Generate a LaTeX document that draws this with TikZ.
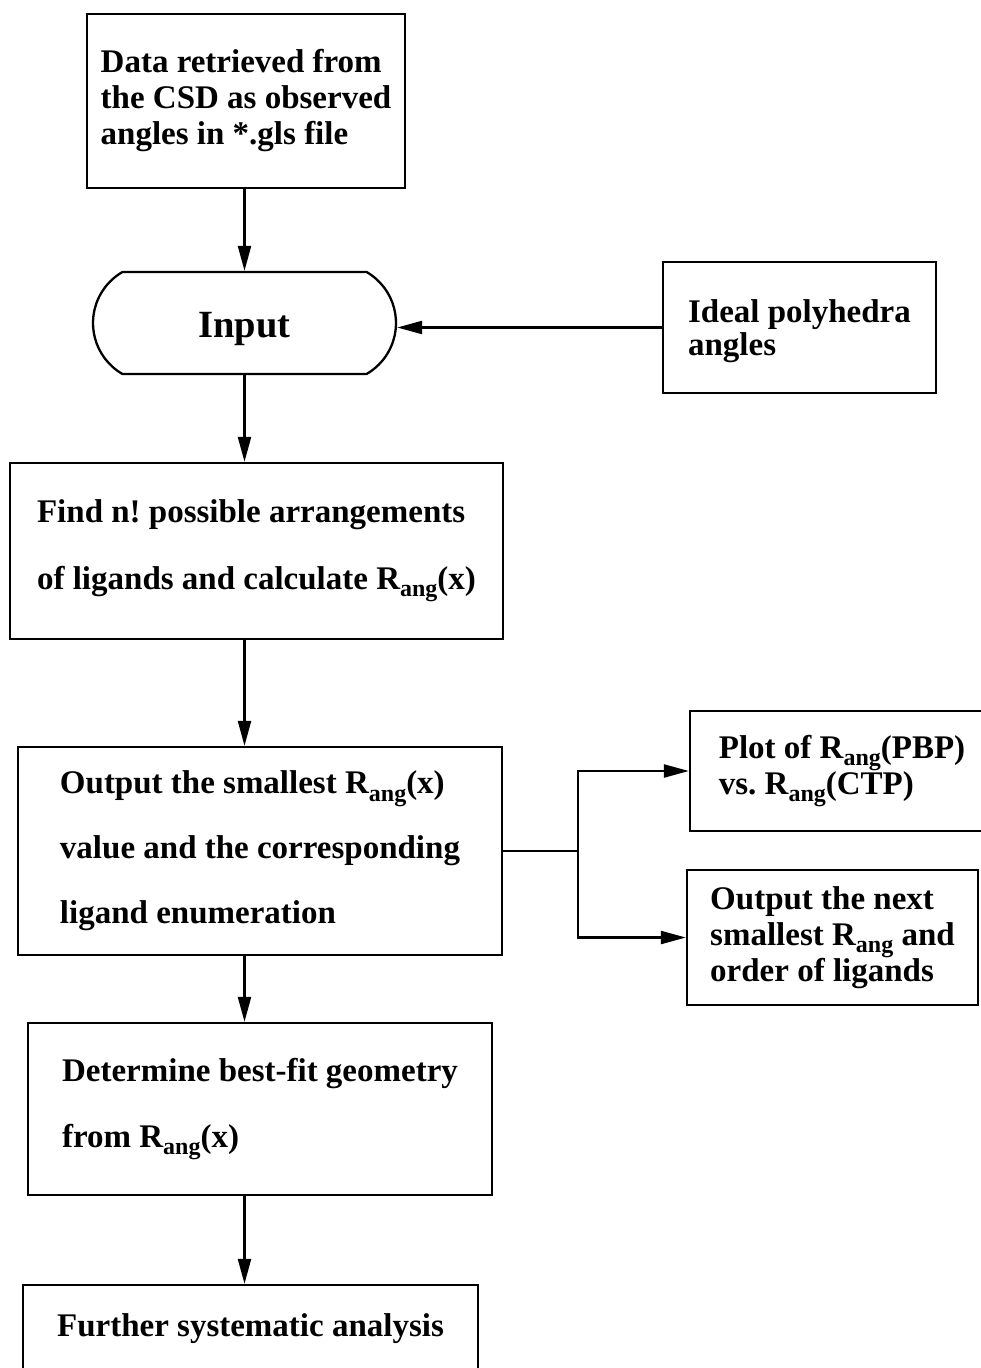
\documentclass[tikz,border=0pt]{standalone}
\usepackage{fontspec}
\setmainfont{Liberation Serif}
\usetikzlibrary{arrows.meta,positioning,shapes.misc}
\newcommand{\Rang}{R\raisebox{-0.22em}{\fontsize{24}{24}\selectfont ang}}
\frenchspacing

\begin{document}
\begin{tikzpicture}[x=1pt,y=-1pt,
    box/.style={draw,line width=2.3pt,align=left,inner sep=0pt,
      font=\bfseries\fontsize{33}{36}\selectfont},
    flow/.style={line width=2.3pt,-{Triangle[length=25pt,width=13pt]}}]
  \useasboundingbox (0,0) rectangle (980,1368);
  % main column
  \node[box,minimum width=318pt,minimum height=174pt] (data) at (246,101)
    {Data retrieved from\\the CSD as observed\\angles in *.gls file};
  \node[box,rounded rectangle,rounded rectangle arc length=120,
    minimum width=303pt,minimum height=102pt,
    font=\bfseries\fontsize{38.5}{40}\selectfont] (input) at (244.5,323)
    {\raisebox{-6pt}[\height][\depth]{Input}};
  \node[box,minimum width=273pt,minimum height=131pt] (ideal) at (799.5,327.5)
    {\raisebox{-4pt}[\height][\depth]{Ideal polyhedra}\\[-3pt]%
     \raisebox{-4pt}[\height][\depth]{angles}};
  \node[box,minimum width=493pt,minimum height=176pt] (find) at (256.5,551)
    {Find n! possible arrangements\\[31pt]of ligands and calculate \Rang(x)};
  \node[box,minimum width=484pt,minimum height=208pt] (output) at (260,851)
    {Output the smallest \Rang(x)\\[29pt]value and the corresponding\\[29pt]ligand enumeration};
  \node[box,minimum width=464pt,minimum height=172pt] (determine) at (260,1109)
    {Determine best-fit geometry\\[30pt]from \Rang(x)};
  \node[box,minimum width=455pt,minimum height=146pt] (further) at (250.5,1358)
    {Further systematic analysis\\[30pt]\mbox{}};
  % side boxes
  \node[box,minimum width=304pt,minimum height=120pt] (plot) at (842,771)
    {Plot of \Rang(PBP)\\vs. \Rang(CTP)};
  \node[box,minimum width=291pt,minimum height=135pt] (next) at (832.5,937.5)
    {Output the next\\smallest \Rang{} and\\order of ligands};
  % connectors
  \draw[flow] (data.south -| input) -- (input.north);
  \draw[flow] (ideal.west) -- (ideal.west -| input.east);
  \draw[flow] (input.south) -- (find.north -| input);
  \draw[flow] (find.south -| input) -- (output.north -| input);
  \draw[flow] (output.south -| input) -- (determine.north -| input);
  \draw[flow] (determine.south -| input) -- (further.north -| input);
  \coordinate[right=75pt of output.east] (split);
  \draw[line width=2.3pt] (output.east) -- (split);
  \draw[flow] (split) |- (plot.west);
  \draw[flow] (split) |- (next.west);
\end{tikzpicture}
\end{document}
